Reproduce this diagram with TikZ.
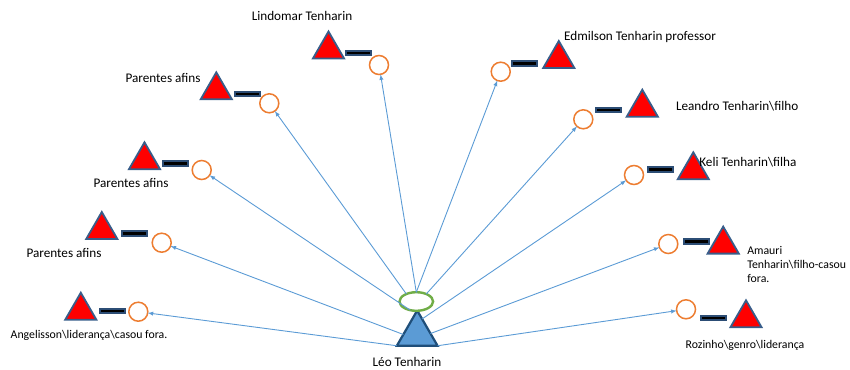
\documentclass[tikz,border=0pt]{standalone}
\usepackage{fontspec}
\setmainfont{Carlito}
\usetikzlibrary{shapes,arrows}
\definecolor{contorno}{HTML}{385D8A}
\definecolor{barra}{HTML}{2C4D75}
\definecolor{laranja}{HTML}{ED7D31}
\definecolor{verde}{HTML}{70AD47}
\definecolor{azul}{HTML}{5B9BD5}
\definecolor{azulesc}{HTML}{1F4E79}

\begin{document}
\begin{tikzpicture}[x=1pt,y=-1pt]
                \tikzstyle{every node}+=[inner sep=0pt, outer sep=0pt]
                \tikzstyle{homem}=[regular polygon, regular polygon sides=3, minimum size=36pt, fill=red, draw=contorno, line width=1.8pt]
                \tikzstyle{mulher}=[circle, minimum size=19pt, fill=white, draw=laranja, line width=1.5pt]
                \tikzstyle{casal}=[rectangle, minimum width=25pt, minimum height=4.5pt, fill=black, draw=barra, line width=2pt]
                \tikzstyle{ego}=[regular polygon, regular polygon sides=3, minimum size=47pt, fill=azul, draw=azulesc, line width=2.2pt]
                \tikzstyle{esposa}=[ellipse, minimum width=33.6pt, minimum height=18.6pt, fill=white, draw=verde, line width=2.4pt]
                \tikzstyle{rotulo}=[font=\fontsize{13.2}{15}\selectfont]
                \tikzstyle{rotulop}=[font=\fontsize{11.8}{14}\selectfont]
                \tikzstyle{liga}=[->, >=latex, draw=azul, line width=0.9pt]
                \useasboundingbox (0,0) rectangle (850,369);
                % Leo e esposa
                \node[ego] (leo) at (417.2,334) {};
                \node[esposa] (esp) at (416.3,301.5) {};
                % familias
                \node[casal] (b1) at (358.7,53) {};
                \node[homem] (h1) at (328.5,49.5) {};
                \node[mulher] (m1) at (379,65) {};
                \node[casal] (b2) at (524.5,63.5) {};
                \node[homem] (h2) at (558.8,59) {};
                \node[mulher] (m2) at (500.7,71.7) {};
                \node[casal] (b3) at (247.2,94) {};
                \node[homem] (h3) at (216.3,90.3) {};
                \node[mulher] (m3) at (269.3,103.3) {};
                \node[casal] (b4) at (175.3,163.3) {};
                \node[homem] (h4) at (144.5,160.3) {};
                \node[mulher] (m4) at (201.7,170) {};
                \node[casal] (b5) at (134.2,233.3) {};
                \node[homem] (h5) at (101.8,230) {};
                \node[mulher] (m5) at (161.7,242.7) {};
                \node[casal] (b6) at (112.5,311) {};
                \node[homem] (h6) at (80.8,310.7) {};
                \node[mulher] (m6) at (138.3,311.7) {};
                \node[casal] (b7) at (608.3,110) {};
                \node[homem] (h7) at (642.3,107.7) {};
                \node[mulher] (m7) at (583.3,119.3) {};
                \node[casal] (b8) at (660.3,169.7) {};
                \node[homem] (h8) at (693.3,170.3) {};
                \node[mulher] (m8) at (634,175) {};
                \node[casal] (b9) at (696.3,241.7) {};
                \node[homem] (h9) at (723.2,244.6) {};
                \node[mulher] (m9) at (668.3,244) {};
                \node[casal] (b10) at (713.3,318) {};
                \node[homem] (h10) at (746,318.3) {};
                \node[mulher] (m10) at (686,309.3) {};
                % ligacoes
                \draw[liga] (esp.north) -- (m1);
                \draw[liga] (esp.north) -- (m2);
                \draw[liga] (esp.143) -- (m3);
                \draw[liga] (esp.235) -- (m4);
                \draw[liga] (leo.182) -- (m5);
                \draw[liga] (leo.corner 2) -- (m6);
                \draw[liga] (esp.37) -- (m7);
                \draw[liga] (leo.72) -- (m8);
                \draw[liga] (leo.2) -- (m9);
                \draw[liga] (leo.corner 3) -- (m10);
                % nomes
                \node[rotulo] (t1) at (302,16) {Lindomar Tenharin};
                \node[rotulo] (t2) at (640,37.3) {Edmilson Tenharin professor};
                \node[rotulo] (t3) at (163,78.3) {Parentes afins};
                \node[rotulo] (t4) at (131,182.7) {Parentes afins};
                \node[rotulo] (t5) at (64,253.3) {Parentes afins};
                \node[rotulop] (t6) at (89,335) {Angelisson\textbackslash{}liderança\textbackslash{}casou fora.};
                \node[rotulo, anchor=west] (t7) at (676,105.7) {Leandro Tenharin\textbackslash{}filho};
                \node[rotulo, anchor=west] (t8) at (699.3,161.7) {Keli Tenharin\textbackslash{}filha};
                \node[rotulop, anchor=north west, align=left] (t9) at (747.3,246) {Amauri\\Tenharin\textbackslash{}filho-casou\\fora.};
                \node[rotulop] (t10) at (745,345) {Rozinho\textbackslash{}genro\textbackslash{}liderança};
                \node[rotulo] (t11) at (407,361.5) {Léo Tenharin};
\end{tikzpicture}
\end{document}
